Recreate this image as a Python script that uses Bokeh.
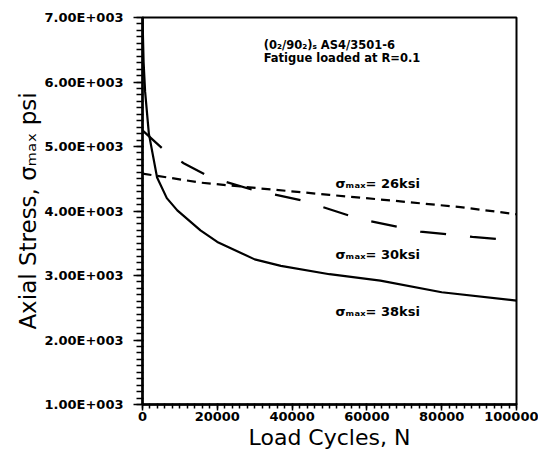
from bokeh.plotting import figure
from bokeh.models import Range1d, SingleIntervalTicker
from bokeh.core.properties import value
from bokeh.embed import file_html
from bokeh.resources import INLINE

# ---- data ----
n_38 = [0, 300, 700, 1700, 3900, 6500, 9300, 15500, 20000, 30000, 37000, 50000, 63600, 80000, 100000]
s_38 = [7000, 6300, 5850, 5200, 4520, 4200, 4010, 3700, 3520, 3250, 3150, 3020, 2920, 2740, 2610]

n_30 = [0, 5300, 11000, 18200, 30000, 43000, 57800, 74300, 88200, 100000]
s_30 = [5250, 4970, 4740, 4520, 4320, 4160, 3880, 3680, 3600, 3540]

n_26 = [0, 15500, 31500, 50000, 67100, 85000, 100000]
s_26 = [4580, 4440, 4350, 4250, 4160, 4060, 3950]

y_ticks = [1000, 2000, 3000, 4000, 5000, 6000, 7000]
y_tick_labels = ["1.00E+003", "2.00E+003", "3.00E+003", "4.00E+003", "5.00E+003", "6.00E+003", "7.00E+003"]
x_ticks = [0, 20000, 40000, 60000, 80000, 100000]
x_tick_labels = ["0", "20000", "40000", "60000", "80000", "100000"]

curve_labels = ["σₘₐₓ= 26ksi", "σₘₐₓ= 30ksi", "σₘₐₓ= 38ksi"]
curve_label_x = [51600, 51600, 51600]
curve_label_y = [4430, 3330, 2440]

note_lines = ["(0₂/90₂)ₛ AS4/3501-6", "Fatigue loaded at R=0.1"]
note_x = [32400, 32400]
note_y = [6570, 6370]

FONT = "DejaVu Sans"

p = figure(width=538, height=452, x_range=Range1d(0, 100000), y_range=Range1d(1000, 7000),
           output_backend="svg", toolbar_location=None,
           min_border_left=142, min_border_right=22, min_border_top=17, min_border_bottom=48)

p.xgrid.visible = False
p.ygrid.visible = False
p.outline_line_color = "black"
p.outline_line_width = 2

# curves (dashed first, solid last)
p.line(n_30, s_30, line_color="black", line_width=2.2, line_dash="26 24")
p.line(n_26, s_26, line_color="black", line_width=2.2, line_dash="9 6")
p.line(n_38, s_38, line_color="black", line_width=2.2)

# annotation texts as text glyphs
p.text(x=curve_label_x, y=curve_label_y, text=curve_labels, text_font=value(FONT),
       text_font_style="bold", text_font_size="13px", text_baseline="middle",
       text_align="left", text_color="black")
p.text(x=note_x, y=note_y, text=note_lines, text_font=value(FONT),
       text_font_style="bold", text_font_size="11.5px", text_baseline="middle",
       text_align="left", text_color="black")

# axes
xa = p.xaxis[0]
xa.ticker = SingleIntervalTicker(interval=20000, num_minor_ticks=10)
xa.major_label_overrides = {t: l for t, l in zip(x_ticks, x_tick_labels)}
xa.axis_label = "Load Cycles, N"
xa.axis_label_text_font = FONT
xa.axis_label_text_font_style = "normal"
xa.axis_label_text_font_size = "22px"
xa.axis_label_text_color = "black"
xa.axis_label_standoff = 1
xa.major_label_text_font = FONT
xa.major_label_text_font_style = "bold"
xa.major_label_text_font_size = "13px"
xa.major_label_text_color = "black"
xa.major_label_standoff = 1
xa.major_tick_out = 6
xa.major_tick_in = 1
xa.minor_tick_out = 4
xa.minor_tick_in = 1
xa.axis_line_color = "black"
xa.axis_line_width = 2.5
xa.major_tick_line_width = 1.5
xa.minor_tick_line_width = 1.5

ya = p.yaxis[0]
ya.ticker = SingleIntervalTicker(interval=1000, num_minor_ticks=10)
ya.major_label_overrides = {t: l for t, l in zip(y_ticks, y_tick_labels)}
ya.axis_label = "Axial Stress, σₘₐₓ psi"
ya.axis_label_text_font = FONT
ya.axis_label_text_font_style = "normal"
ya.axis_label_text_font_size = "23px"
ya.axis_label_text_color = "black"
ya.axis_label_standoff = 1
ya.major_label_text_font = FONT
ya.major_label_text_font_style = "bold"
ya.major_label_text_font_size = "13px"
ya.major_label_text_color = "black"
ya.major_label_standoff = 10
ya.major_tick_out = 9
ya.major_tick_in = 1
ya.minor_tick_out = 6
ya.minor_tick_in = 1
ya.axis_line_color = "black"
ya.axis_line_width = 2.5
ya.major_tick_line_width = 1.5
ya.minor_tick_line_width = 1.5

open("out.html", "w").write(file_html(p, INLINE))
